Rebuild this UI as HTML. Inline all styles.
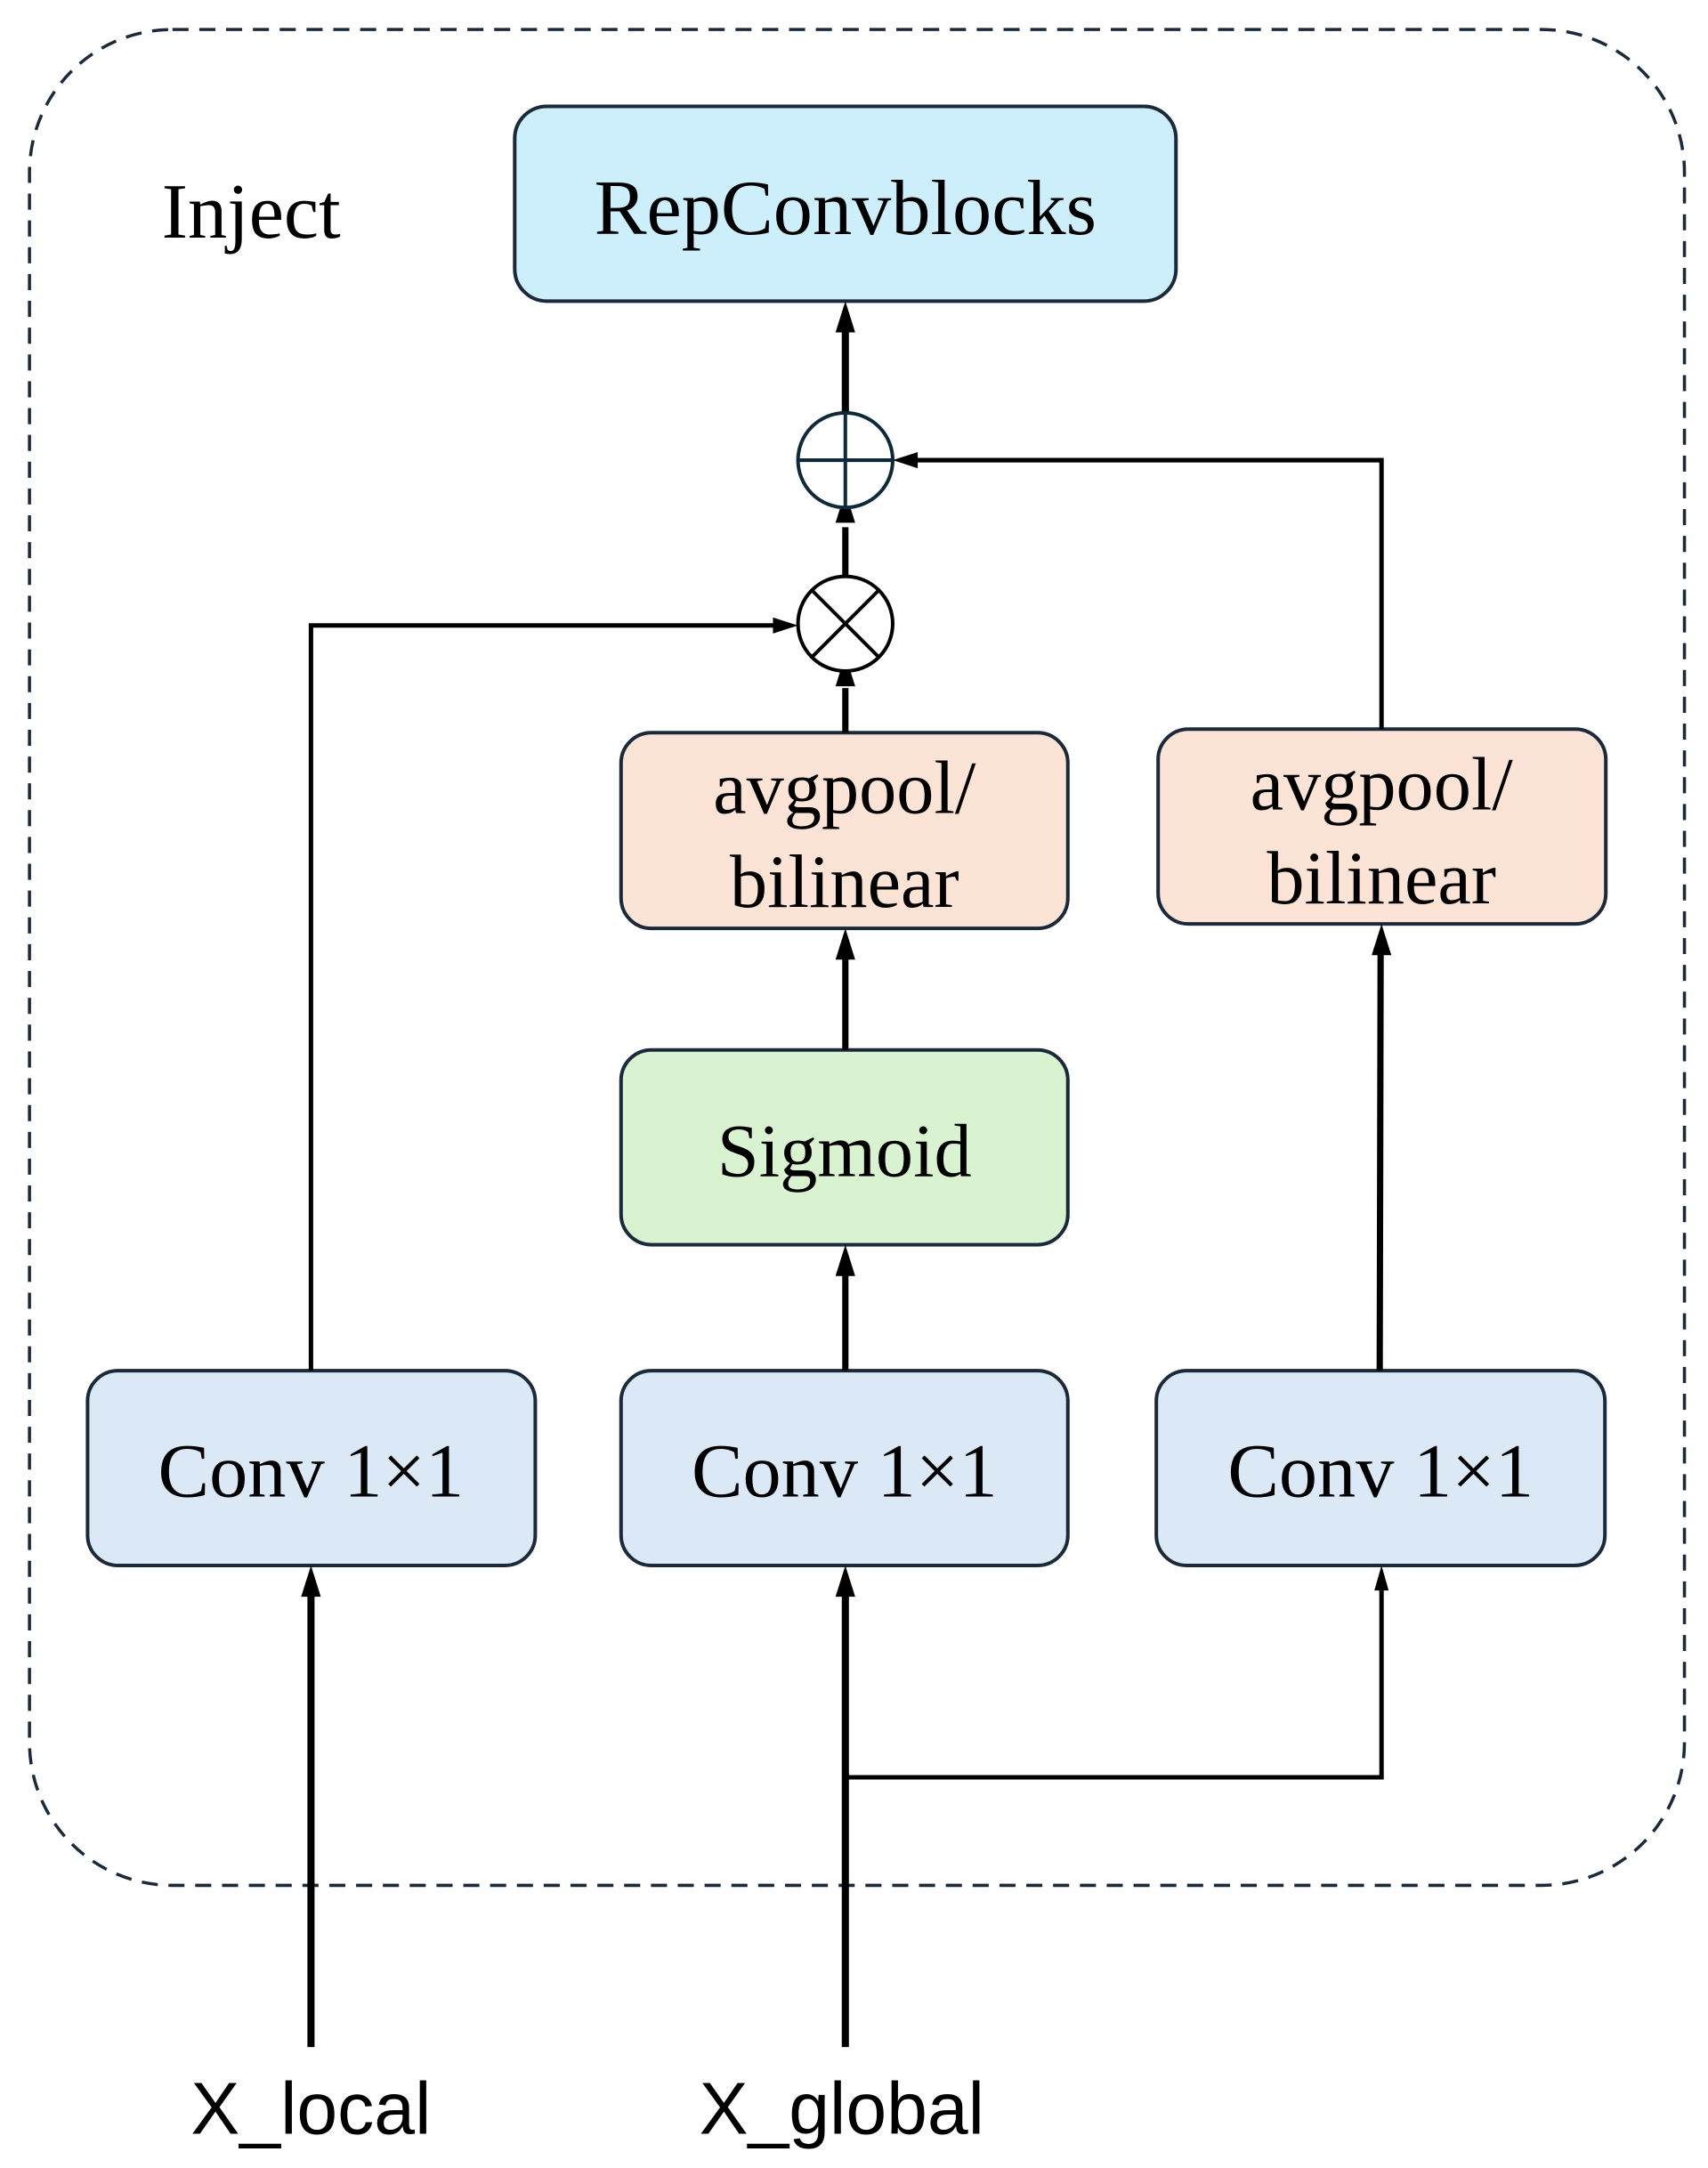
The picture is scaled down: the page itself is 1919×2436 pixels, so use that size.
<!DOCTYPE html>
<html><head><style>html,body{margin:0;padding:0;background:#fff}</style></head>
<body>
<svg width="1919" height="2431" viewBox="0 0 1919 2431" xmlns="http://www.w3.org/2000/svg">
<g transform="scale(1.004)">
<rect x="33" y="33" width="1852" height="2077" rx="160" fill="none" stroke="#1a2a3a" stroke-width="3.5" stroke-dasharray="18,12"/>
<g font-family="'Liberation Serif',serif" fill="#000" text-anchor="middle">
<text x="281" y="266" font-size="88">Inject</text>
<rect x="576" y="119" width="740" height="218" rx="36" fill="#cdeefb" stroke="#1a2a3a" stroke-width="4"/>
<text x="946" y="262" font-size="88">RepConvblocks</text>
<rect x="695" y="820" width="500" height="219" rx="34" fill="#fbe3d6" stroke="#1a2a3a" stroke-width="4"/>
<text x="945" y="910" font-size="84">avgpool/</text>
<text x="945" y="1015" font-size="84">bilinear</text>
<rect x="1296" y="816" width="501" height="218" rx="34" fill="#fbe3d6" stroke="#1a2a3a" stroke-width="4"/>
<text x="1546" y="906" font-size="84">avgpool/</text>
<text x="1546" y="1011" font-size="84">bilinear</text>
<rect x="695" y="1175" width="500" height="218" rx="34" fill="#d9f2d0" stroke="#1a2a3a" stroke-width="4"/>
<text x="945" y="1316" font-size="84">Sigmoid</text>
<rect x="98" y="1534" width="501" height="218" rx="34" fill="#dbe8f6" stroke="#1a2a3a" stroke-width="4"/>
<text x="348" y="1675" font-size="86">Conv 1×1</text>
<rect x="695" y="1534" width="500" height="218" rx="34" fill="#dbe8f6" stroke="#1a2a3a" stroke-width="4"/>
<text x="945" y="1675" font-size="86">Conv 1×1</text>
<rect x="1294" y="1534" width="502" height="218" rx="34" fill="#dbe8f6" stroke="#1a2a3a" stroke-width="4"/>
<text x="1545" y="1675" font-size="86">Conv 1×1</text>
</g>
<g font-family="'Liberation Sans',sans-serif" font-size="82" text-anchor="middle" fill="#000">
<text x="348" y="2388">X_local</text>
<text x="942" y="2388">X_global</text>
</g>
<g stroke="#000" fill="none" stroke-linecap="butt">
<line x1="946" y1="462" x2="946" y2="370" stroke-width="8"/>
<line x1="946" y1="645" x2="946" y2="590" stroke-width="7"/>
<line x1="946" y1="820" x2="946" y2="770" stroke-width="7"/>
<line x1="946" y1="1175" x2="946" y2="1070" stroke-width="7"/>
<line x1="946" y1="1534" x2="946" y2="1425" stroke-width="7"/>
<line x1="946" y1="2291" x2="946" y2="1785" stroke-width="8"/>
<line x1="348" y1="2291" x2="348" y2="1785" stroke-width="8"/>
<polyline points="348,1534 348,700 870,700" stroke-width="5"/>
<polyline points="1546,816 1546,515 1025,515" stroke-width="5"/>
<line x1="1544" y1="1534" x2="1545" y2="1068" stroke-width="7"/>
<polyline points="943,1989 1546,1989 1546,1780" stroke-width="5"/>
</g>
<g fill="#000">
<polygon points="946,337 935,372 957,372"/>
<polygon points="946,550 935,585 957,585"/>
<polygon points="946,733 935,768 957,768"/>
<polygon points="946,1039 935,1074 957,1074"/>
<polygon points="946,1393 935,1428 957,1428"/>
<polygon points="946,1752 935,1787 957,1787"/>
<polygon points="348,1752 337,1787 359,1787"/>
<polygon points="1546,1034 1535,1069 1557,1069"/>
<polygon points="1546,1752 1538,1780 1554,1780"/>
<polygon points="893,700 865,691 865,709"/>
<polygon points="999,515 1027,506 1027,524"/>
</g>
<g stroke="#0e2a3a" stroke-width="4" fill="#fff">
<circle cx="946" cy="515" r="53"/>
<line x1="893" y1="515" x2="999" y2="515"/>
<line x1="946" y1="462" x2="946" y2="568"/>
</g>
<g stroke="#000" stroke-width="4" fill="#fff">
<circle cx="946" cy="698" r="53"/>
<line x1="908.5" y1="660.5" x2="983.5" y2="735.5"/>
<line x1="983.5" y1="660.5" x2="908.5" y2="735.5"/>
</g>
</g>
</svg>
</body></html>
